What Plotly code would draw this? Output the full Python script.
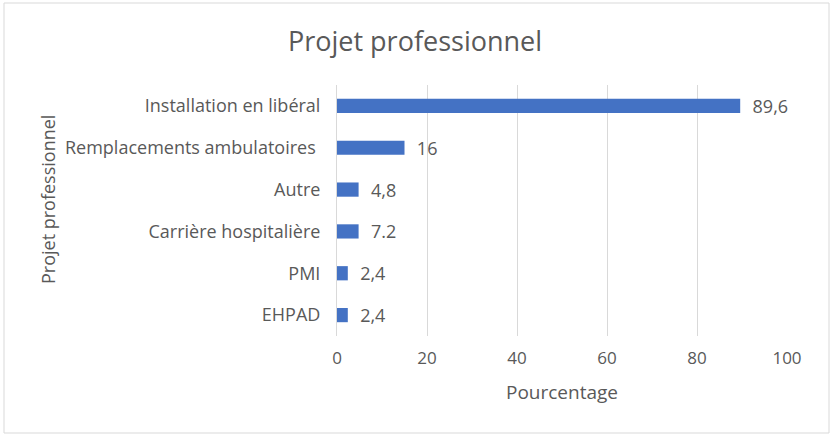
import plotly.graph_objects as go

categories = ["EHPAD", "PMI", "Carrière hospitalière", "Autre",
              "Remplacements ambulatoires ", "Installation en libéral"]
bar_values = [2.4, 2.4, 4.8, 4.8, 15, 89.6]
bar_labels = ["2,4", "2,4", "7.2", "4,8", "16", "89,6"]
x_ticks = [0, 20, 40, 60, 80, 100]

W, H = 836, 436
L, R, T, B = 337, 49, 85, 100
pw, ph = W - L - R, H - T - B

FONT = "Open Sans"
GREY = "#595959"
PAD = "\u00a0\u00a0"

fig = go.Figure(go.Bar(
    y=categories, x=bar_values, orientation="h",
    marker=dict(color="#4472C4", line=dict(width=0)),
    width=0.34,
    text=[PAD + t for t in bar_labels], textposition="outside",
    cliponaxis=False, constraintext="none",
    textfont=dict(family=FONT, size=18, color=GREY),
))

def px_x(p):
    return (p - L) / pw

def px_y(p):
    return 1 - (p - T) / ph

fig.update_layout(
    width=W, height=H,
    margin=dict(l=L, r=R, t=T, b=B, autoexpand=False),
    paper_bgcolor="white", plot_bgcolor="white",
    showlegend=False,
    font=dict(family=FONT, color=GREY),
    title=dict(text="Projet professionnel", x=415 / W, xanchor="center",
               xref="container", y=1 - 42 / H, yref="container", yanchor="middle",
               font=dict(family=FONT, size=27, color=GREY)),
    xaxis=dict(range=[0, 100], tickvals=x_ticks, showgrid=True,
               gridcolor="#d9d9d9", gridwidth=1, zeroline=False,
               showline=False, ticks="", ticklabelstandoff=10,
               tickfont=dict(family=FONT, size=17, color=GREY),
               title=dict(text="Pourcentage", standoff=17,
                          font=dict(family=FONT, size=19, color=GREY))),
    yaxis=dict(showgrid=False, showline=True, linecolor="#d9d9d9",
               linewidth=1, ticks="", ticklabelstandoff=12,
               tickfont=dict(family=FONT, size=18, color=GREY)),
    bargap=0.66,
    annotations=[dict(text="Projet professionnel", textangle=-90,
                      xref="paper", yref="paper", x=px_x(48), y=px_y(200),
                      xanchor="center", yanchor="middle", showarrow=False,
                      font=dict(family=FONT, size=18, color=GREY))],
    shapes=[dict(type="rect", xref="paper", yref="paper",
                 x0=px_x(4), x1=px_x(829), y0=px_y(433), y1=px_y(3),
                 line=dict(color="#d9d9d9", width=1), fillcolor="rgba(0,0,0,0)",
                 layer="below")],
)

fig.write_html("out.html", config={"displayModeBar": False},
               post_script="document.body.style.margin='0';document.body.style.overflow='hidden';")
